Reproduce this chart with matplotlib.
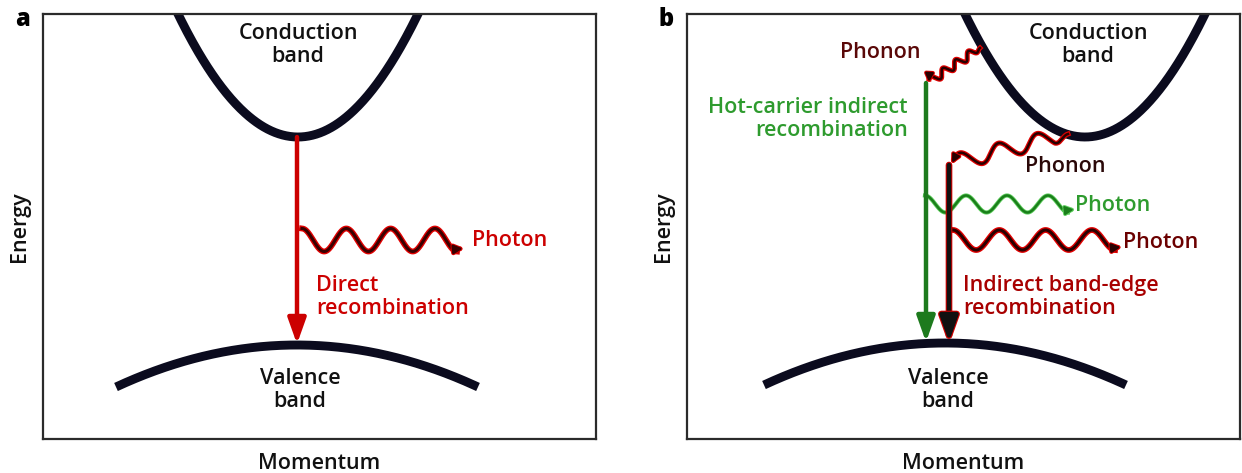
import numpy as np
import matplotlib.pyplot as plt
from matplotlib import patheffects as pe

plt.rcParams['font.family'] = ['Open Sans', 'DejaVu Sans']

W, H = 1242, 473
fig = plt.figure(figsize=(W / 100, H / 100), dpi=100)

# panel frames in picture pixels (left, top, width, height)
panel_names = ['a', 'b']
panel_left = [43, 687]
panel_top = 14
panel_w, panel_h = 553, 425

# bands, in panel units (x = momentum, y = energy, both in pixels from lower-left)
cb_center = [255, 398]
cb_min = 302
cb_halfwidth, cb_rise = 120, 123
vb_center = [254, 258]
vb_top = [94, 96]
vb_halfwidth, vb_drop = 181, 42

# vertical recombination arrows: panel, x, y_from, y_to, colour, outline
transitions = [
    (0, 254, 302, 95, '#cc0000', None),
    (1, 239, 356, 97, '#1d7a1d', None),
    (1, 262, 274, 97, '#111111', '#d00000'),
]

# emitted photons: panel, x_from, x_to, y_centre, amplitude, period, colour, outline, widths
photons = [
    (0, 259, 414, 199, 11.5, 44.3, '#3a0000', '#e00000', (2.2, 4.2)),
    (1, 238, 381, 235, 8.5, 41, '#1a7f1a', '#5fcf5f', (1.8, 3.0)),
    (1, 266, 428, 199, 10, 46.3, '#2a0000', '#e00000', (2.2, 4.2)),
]

# phonons: panel, start, end, number of wiggles, amplitude
phonons = [
    (1, (293, 391), (242, 357), 4, 4),
    (1, (381, 305), (265, 276), 3, 8),
]

# labels: panel, x, y, text, colour, ha
labels = [
    (0, 255, 394, 'Conduction\nband', '#111111', 'center'),
    (0, 257, 49, 'Valence\nband', '#111111', 'center'),
    (0, 429, 199, 'Photon', '#cc0000', 'left'),
    (0, 273, 142, 'Direct\nrecombination', '#cc0000', 'left'),
    (1, 401, 394, 'Conduction\nband', '#111111', 'center'),
    (1, 261, 49, 'Valence\nband', '#111111', 'center'),
    (1, 233, 387, 'Phonon', '#5a0808', 'right'),
    (1, 221, 320, 'Hot-carrier indirect\nrecombination', '#2e9b2e', 'right'),
    (1, 338, 273, 'Phonon', '#2a0808', 'left'),
    (1, 388, 234, 'Photon', '#2e9b2e', 'left'),
    (1, 436, 197, 'Photon', '#6b0000', 'left'),
    (1, 276, 142, 'Indirect band-edge\nrecombination', '#a80000', 'left'),
]

band_color = '#0b0b1e'
fs = 15.5
weight = 'semibold'

axes = []
for i in range(2):
    ax = fig.add_axes([panel_left[i] / W, (H - panel_top - panel_h) / H,
                       panel_w / W, panel_h / H])
    ax.set_xlim(0, panel_w)
    ax.set_ylim(0, panel_h)
    ax.set_xticks([])
    ax.set_yticks([])
    for s in ax.spines.values():
        s.set_linewidth(1.6)
        s.set_color('#2b2b2b')
    axes.append(ax)

    # conduction band
    x = np.linspace(cb_center[i] - 140, cb_center[i] + 140, 300)
    y = cb_min + cb_rise * ((x - cb_center[i]) / cb_halfwidth) ** 2
    ax.plot(x, y, color=band_color, lw=6.4, solid_capstyle='butt')

    # valence band
    x = np.linspace(vb_center[i] - vb_halfwidth, vb_center[i] + vb_halfwidth, 300)
    y = vb_top[i] - vb_drop * ((x - vb_center[i]) / vb_halfwidth) ** 2
    ax.plot(x, y, color=band_color, lw=6.4, solid_capstyle='butt')

    fig.text((panel_left[i] - 21) / W, 1 - 20 / H, panel_names[i],
             fontsize=17, fontweight='heavy', ha='center', va='center')
    fig.text((panel_left[i] - 24) / W, 1 - 227 / H, 'Energy', fontsize=fs,
             rotation=90, ha='center', va='center', color='#111111',
             fontweight=weight)
    fig.text((panel_left[i] + panel_w / 2) / W, 1 - 463 / H, 'Momentum',
             fontsize=fs, ha='center', va='center', color='#111111',
             fontweight=weight)


def head(ax, p0, p1, color, outline=None, scale=12, lw=1.8):
    a = ax.annotate('', xy=p1, xytext=p0,
                    arrowprops=dict(arrowstyle='-|>', color=color, lw=lw,
                                    mutation_scale=scale, shrinkA=0, shrinkB=0))
    if outline:
        a.arrow_patch.set_path_effects([pe.withStroke(linewidth=lw + 1.4, foreground=outline)])


for p, x, y0, y1, c, oc in transitions:
    ax = axes[p]
    a = ax.annotate('', xy=(x, y1), xytext=(x, y0),
                    arrowprops=dict(arrowstyle='-|>,head_length=0.7,head_width=0.25',
                                    color=c, lw=3.2, mutation_scale=22,
                                    shrinkA=0, shrinkB=0))
    if oc:
        a.arrow_patch.set_path_effects([pe.withStroke(linewidth=4.8, foreground=oc)])

for p, x0, x1, yc, amp, per, c, oc, (lw_in, lw_out) in photons:
    ax = axes[p]
    x = np.linspace(x0, x1, 400)
    y = yc + amp * np.cos(2 * np.pi * (x - x0) / per)
    ax.plot(x, y, color=c, lw=lw_in,
            path_effects=[pe.withStroke(linewidth=lw_out, foreground=oc)])
    head(ax, (x[-12], y[-12]), (x1 + 6, y[-1] + 3), c, oc, scale=13, lw=lw_in - 0.4)

for p, (sx, sy), (ex, ey), n, amp in phonons:
    ax = axes[p]
    t = np.linspace(0, 1, 300)
    dx, dy = ex - sx, ey - sy
    L = np.hypot(dx, dy)
    nx, ny = -dy / L, dx / L
    w = amp * np.sin(2 * np.pi * n * t) * np.clip(t * 8, 0, 1)
    x = sx + dx * t + nx * w
    y = sy + dy * t + ny * w
    ax.plot(x[:-8], y[:-8], color='#2a0000', lw=1.8,
            path_effects=[pe.withStroke(linewidth=3.6, foreground='#e00000')])
    head(ax, (x[-14], y[-14]), (ex, ey), '#2a0000', '#e00000', scale=12, lw=1.6)

for p, x, y, s, c, ha in labels:
    axes[p].text(x, y, s, color=c, ha=ha, va='center', fontsize=fs,
                 multialignment=ha if ha != 'center' else 'center',
                 linespacing=1.1, fontweight=weight)

fig.savefig('out.png', dpi=100)
